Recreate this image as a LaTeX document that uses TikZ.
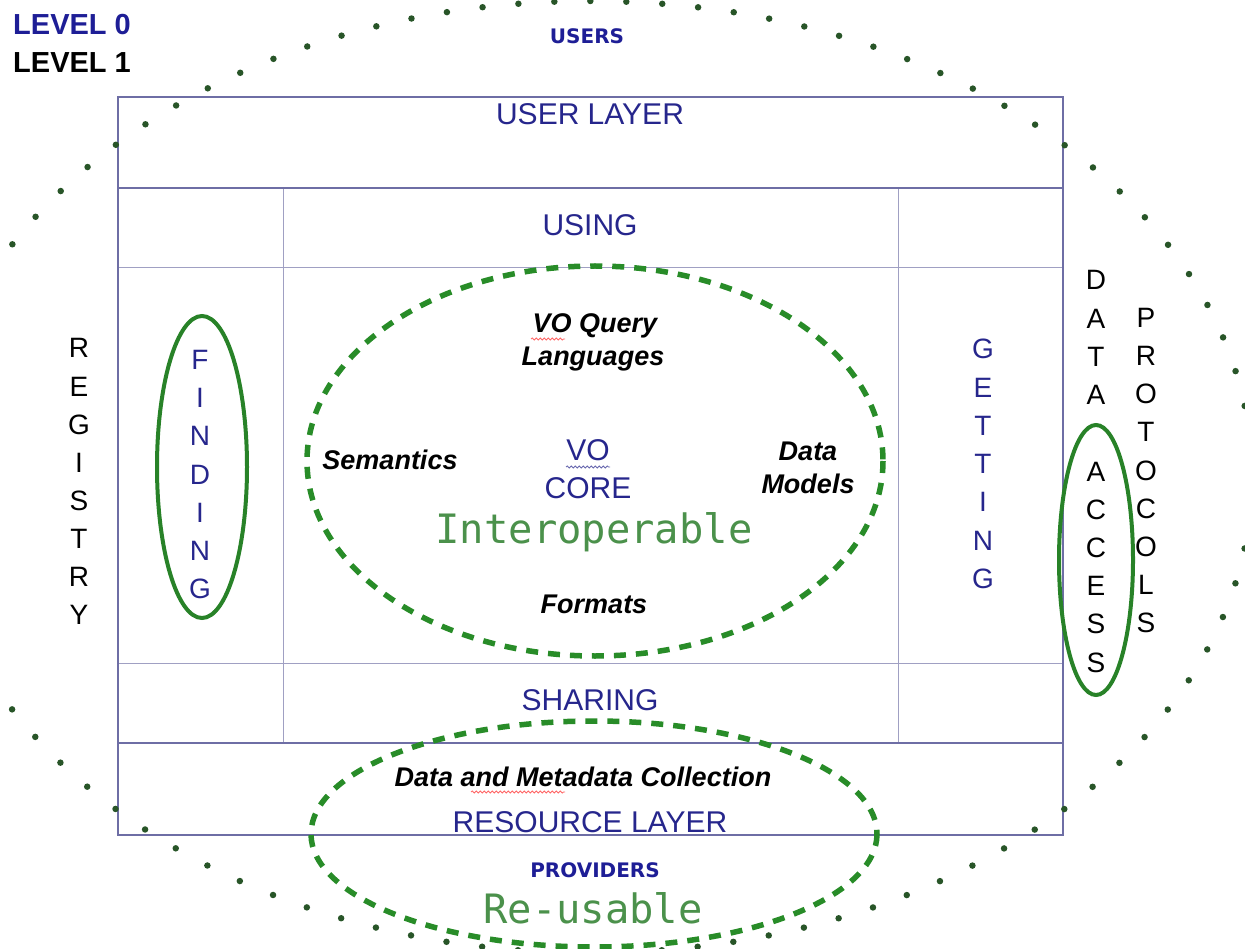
\documentclass[tikz,border=0pt]{standalone}
\usepackage{fontspec}
\setmainfont{Liberation Sans}
\newfontfamily\djsans{DejaVu Sans}
\newfontfamily\djmono{DejaVu Sans Mono}
\usetikzlibrary{decorations.pathmorphing}
\definecolor{navy}{RGB}{38,38,140}
\definecolor{lvlblue}{RGB}{30,30,150}
\definecolor{boxline}{RGB}{110,110,165}
\definecolor{innerline}{RGB}{160,160,195}
\definecolor{ringgreen}{RGB}{40,130,40}
\definecolor{dashgreen}{RGB}{40,140,40}
\definecolor{wordgreen}{RGB}{75,145,75}
\definecolor{dotgreen}{RGB}{40,85,40}
\begin{document}
\begin{tikzpicture}[x=1pt,y=-1pt,
  txt/.style={inner sep=0pt, anchor=base},
  layertxt/.style={txt, text=navy, font=\fontsize{30}{36}\selectfont},
  bitxt/.style={txt, text=black, font=\fontsize{27}{33}\selectfont\bfseries\itshape},
  vletter/.style={txt, font=\fontsize{28}{34}\selectfont},
  smallbold/.style={txt, text=lvlblue, font=\fontsize{20}{24}\selectfont\djsans\bfseries},
  monotxt/.style={txt, text=wordgreen, font=\fontsize{40.5}{48}\selectfont\djmono},
  outerline/.style={draw=boxline, line width=2pt},
  thinline/.style={draw=innerline, line width=1pt},
  ring/.style={draw=ringgreen, line width=4pt},
  dashring/.style={draw=dashgreen, line width=5.5pt, dash pattern=on 12pt off 10pt},
  dotring/.style={draw=dotgreen, line width=6.5pt, line cap=round, dash pattern=on 0pt off 36pt},
  squiggle/.style={decorate, decoration={snake, amplitude=1pt, segment length=4pt}, line width=0.8pt},
]
\path[use as bounding box, clip] (0,0) rectangle (1245,949);

% grid of the layers
\draw[thinline] (118,268) -- (1063,268);
\draw[thinline] (118,663) -- (1063,663);
\draw[thinline] (283,188) -- (283,743);
\draw[thinline] (898,188) -- (898,743);
\draw[outerline] (118,188) -- (1063,188);
\draw[outerline] (118,743) -- (1063,743);
\draw[outerline] (118,97) rectangle (1063,835);

% green rings
\draw[ring] (202,467) ellipse [x radius=45, y radius=151];
\draw[ring] (1096,560) ellipse [x radius=37, y radius=135];
\draw[dashring] (595,461) ellipse [x radius=288, y radius=195];
\draw[dashring] (594,834) ellipse [x radius=283, y radius=113];
\draw[dotring] (590,477) ellipse [x radius=662, y radius=476];

% level labels
\node[txt, anchor=base west, text=lvlblue, font=\fontsize{29}{34}\selectfont\bfseries] (lvl0) at (13,35) {LEVEL 0};
\node[txt, anchor=base west, text=black, font=\fontsize{29}{34}\selectfont\bfseries] (lvl1) at (13,73) {LEVEL 1};

\node[smallbold] (users) at (587,44) {USERS};
\node[smallbold] (providers) at (595,877) {PROVIDERS};

% layer names
\node[layertxt] (userlayer) at (590,125) {USER LAYER};
\node[layertxt] (using) at (590,236) {USING};
\node[layertxt] (sharing) at (590,710) {SHARING};
\node[layertxt] (resource) at (590,832) {RESOURCE LAYER};
\node[layertxt] (vo) at (588,460) {VO};
\node[layertxt] (core) at (588,498) {CORE};

% core topics
\node[bitxt] (voq) at (595,333) {VO Query};
\node[bitxt] (lang) at (593,366) {Languages};
\node[bitxt] (sem) at (390,469) {Semantics};
\node[bitxt] (data) at (808,460) {Data};
\node[bitxt] (models) at (808,493) {Models};
\node[bitxt] (formats) at (594,613) {Formats};
\node[bitxt] (collection) at (583,786) {Data and Metadata Collection};

% spell-check marks
\draw[squiggle, red!60] (531,339) -- (565,339);
\draw[squiggle, navy!70] (566,467) -- (610,467);
\draw[squiggle, red!60] (471,792) -- (565,792);

% FAIR words
\node[monotxt] (interop) at (594,543) {Interoperable};
\node[monotxt] (reuse) at (593,923) {Re-usable};

% vertical words
\foreach \l [count=\i from 0] in {R,E,G,I,S,T,R,Y}
  \node[vletter, text=black] (reg\i) at (79,358+38.1*\i) {\l};
\foreach \l [count=\i from 0] in {F,I,N,D,I,N,G}
  \node[vletter, text=navy] (find\i) at (200,370+38*\i) {\l};
\foreach \l [count=\i from 0] in {G,E,T,T,I,N,G}
  \node[vletter, text=navy] (get\i) at (983,359+38.2*\i) {\l};
\foreach \l [count=\i from 0] in {D,A,T,A}
  \node[vletter, text=black] (data\i) at (1096,290+38.2*\i) {\l};
\foreach \l [count=\i from 5] in {A,C,C,E,S,S}
  \node[vletter, text=black] (acc\i) at (1096,290+38.2*\i) {\l};
\foreach \l [count=\i from 1] in {P,R,O,T,O,C,O,L,S}
  \node[vletter, text=black] (prot\i) at (1146,290+38*\i) {\l};
\end{tikzpicture}
\end{document}
